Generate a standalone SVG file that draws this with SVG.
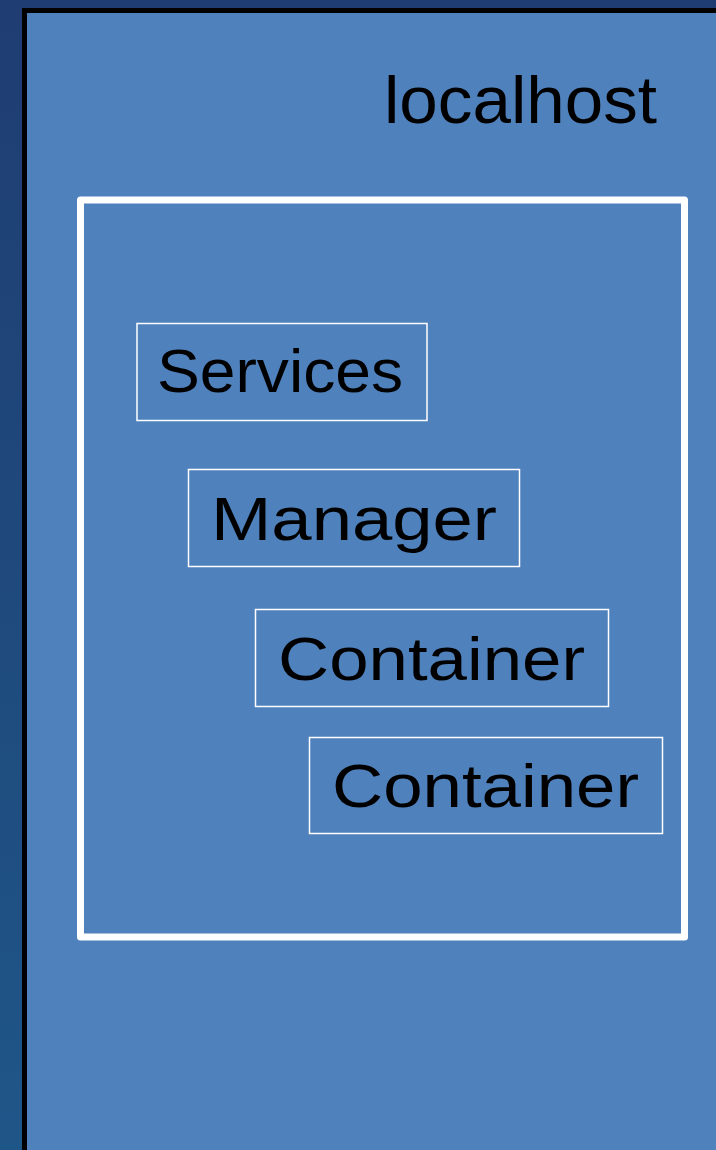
<svg xmlns="http://www.w3.org/2000/svg" width="716" height="1150" viewBox="0 0 716 1150">
  <defs>
    <linearGradient id="bg" x1="0" y1="0" x2="0" y2="1">
      <stop offset="0" stop-color="#1f3d72"/>
      <stop offset="1" stop-color="#1f5688"/>
    </linearGradient>
    <style>
      .label { font-family: "Liberation Sans", Arial, sans-serif; fill: #000; }
      .box { fill: none; stroke: #ffffff; stroke-width: 1.5; }
    </style>
  </defs>

  <!-- page background -->
  <rect x="0" y="0" width="716" height="1150" fill="url(#bg)"/>

  <!-- host frame -->
  <g id="localhost">
    <rect x="24.5" y="10.5" width="720" height="1160" fill="#4f81bd" stroke="#000" stroke-width="5"/>
    <text class="label" x="384" y="123" font-size="66" textLength="273" lengthAdjust="spacingAndGlyphs">localhost</text>
  </g>

  <!-- runtime frame -->
  <g id="runtime">
    <rect x="80.5" y="200" width="604" height="737" fill="none" stroke="#ffffff" stroke-width="7" stroke-linejoin="round"/>
  </g>

  <g id="services">
    <rect class="box" x="137" y="323.5" width="290" height="97"/>
    <text class="label" x="157" y="392" font-size="62" textLength="246" lengthAdjust="spacingAndGlyphs">Services</text>
  </g>

  <g id="manager">
    <rect class="box" x="188.5" y="469.5" width="331" height="97"/>
    <text class="label" x="211" y="540" font-size="62" textLength="286" lengthAdjust="spacingAndGlyphs">Manager</text>
  </g>

  <g id="container1">
    <rect class="box" x="255.5" y="609.5" width="353" height="97"/>
    <text class="label" x="278" y="680" font-size="62" textLength="307" lengthAdjust="spacingAndGlyphs">Container</text>
  </g>

  <g id="container2">
    <rect class="box" x="309.5" y="737.5" width="353" height="96"/>
    <text class="label" x="332" y="807" font-size="62" textLength="307" lengthAdjust="spacingAndGlyphs">Container</text>
  </g>

  <g id="connectors"/>
</svg>
